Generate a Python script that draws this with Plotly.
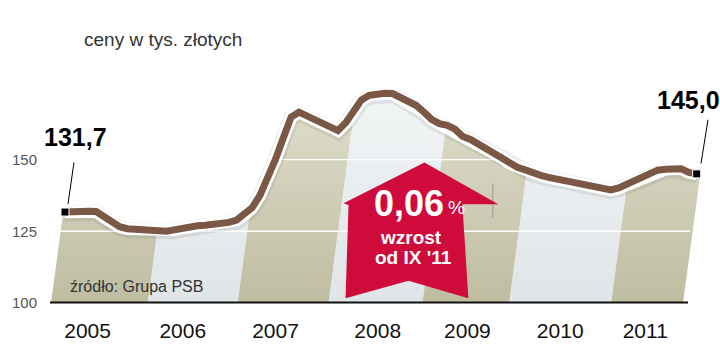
import plotly.graph_objects as go

# ---------------- data ----------------
months = list(range(82))  # Jan 2005 .. Oct 2011 (monthly)
prices = [131.7, 132.0, 132.0, 132.0, 131.9, 129.9, 128.0, 126.6, 125.9, 125.7,
          125.4, 125.2, 125.1, 125.0, 125.5, 126.1, 126.6, 126.9, 127.1, 127.3,
          127.7, 128.1, 128.9, 130.8, 133.2, 137.5, 143.1, 150.1, 157.6, 164.8,
          166.5, 165.2, 163.4, 162.3, 161.2, 160.1, 162.8, 166.9, 170.7, 172.4,
          173.0, 173.1, 173.0, 171.6, 170.0, 168.9, 166.6, 164.0, 162.5, 161.9,
          160.6, 158.0, 157.0, 155.4, 153.6, 152.1, 150.7, 148.6, 147.3, 146.4,
          145.3, 144.5, 143.8, 143.3, 142.7, 142.3, 141.8, 141.2, 140.4, 139.8,
          139.4, 140.1, 141.3, 142.6, 143.9, 145.2, 146.3, 146.6, 146.8, 146.8,
          145.5, 145.0]
year_labels = ["2005", "2006", "2007", "2008", "2009", "2010", "2011"]
year_label_pos = [2.9, 15.1, 27.0, 40.1, 51.6, 63.5, 74.4]
y_ticks = [100, 125, 150]
change_value = "0,06"
title_text = "ceny w tys. złotych"
source_text = "źródło: Grupa PSB"

# ---------------- layout geometry (pixels) ----------------
WIDTH, HEIGHT = 720, 354
L, R, T, B = 50, 705, 50, 311          # plot area edges in px
PX_PER_UNIT = 2.96
PX_PER_MONTH = 7.811
X0_PX = 64                              # px of first month
x_min = months[0] - (X0_PX - L) / PX_PER_MONTH
x_max = months[0] + (R - X0_PX) / PX_PER_MONTH
y_min = 100
y_max = 100 + (B - T) / PX_PER_UNIT


def xpx(px):
    return (px - L) / (R - L)


def ypx(py):
    return (B - py) / (B - T)


def px_to_x(px):
    return x_min + (px - L) / PX_PER_MONTH


def py_to_y(py):
    return y_min + (B - py) / PX_PER_UNIT


BROWN = "#7b5845"
OLIVE_SCALE = [[0, "#e2e1d0"], [1, "#bdbb9f"]]
LIGHT_SCALE = [[0, "#f3f5f6"], [1, "#dfe4e7"]]
RED = "#cf0b3c"
FONT = "Liberation Sans"

fig = go.Figure()

# background slanted bands (alternating)
band_edges_px = [50, 147, 237, 328, 422, 509, 611, 683]
slant = 0.13
for k in range(len(band_edges_px) - 1):
    a, b = band_edges_px[k], band_edges_px[k + 1]
    top_py = T
    shift = slant * (B - top_py)
    xs = [px_to_x(a), px_to_x(b), px_to_x(b + shift), px_to_x(a + shift), px_to_x(a)]
    ys = [y_min, y_min, py_to_y(top_py), py_to_y(top_py), y_min]
    fig.add_trace(go.Scatter(
        x=xs, y=ys, mode="lines", line=dict(width=0), fill="toself",
        fillcolor="#cccab2" if k % 2 == 0 else "#e6e9eb",
        fillgradient=dict(type="vertical",
                          colorscale=OLIVE_SCALE if k % 2 == 0 else LIGHT_SCALE,
                          start=py_to_y(B - 230), stop=y_min),
        hoverinfo="skip", showlegend=False))

# white gridlines
for gv in y_ticks[1:]:
    fig.add_trace(go.Scatter(x=[x_min, px_to_x(690)], y=[gv, gv], mode="lines",
                             line=dict(color="white", width=1.3),
                             hoverinfo="skip", showlegend=False))

# white area above the line
poly_x = [x_min] + months + [x_max, x_max, x_min, x_min]
poly_y = [prices[0]] + prices + [prices[-1], y_max, y_max, prices[0]]
fig.add_trace(go.Scatter(x=poly_x, y=poly_y, mode="lines", line=dict(width=0),
                         fill="toself", fillcolor="white",
                         hoverinfo="skip", showlegend=False))

# line: shadow, halo, line
fig.add_trace(go.Scatter(x=months, y=[p - 0.5 for p in prices], mode="lines",
                         line=dict(color="rgba(90,90,90,0.12)", width=16),
                         hoverinfo="skip", showlegend=False))
fig.add_trace(go.Scatter(x=months, y=prices, mode="lines",
                         line=dict(color="white", width=12.5),
                         hoverinfo="skip", showlegend=False))
fig.add_trace(go.Scatter(x=months, y=prices, mode="lines",
                         line=dict(color=BROWN, width=7),
                         showlegend=False))
# end markers
fig.add_trace(go.Scatter(x=[months[0], months[-1]], y=[prices[0], prices[-1]],
                         mode="markers",
                         marker=dict(symbol="square", size=8, color="black",
                                     line=dict(color="white", width=1)),
                         showlegend=False, cliponaxis=False))

shapes = []
# x axis baseline
shapes.append(dict(type="line", xref="paper", yref="paper",
                   x0=xpx(49), x1=xpx(688), y0=ypx(310.5), y1=ypx(310.5),
                   line=dict(color="#111", width=2), layer="above"))
# leader lines
shapes.append(dict(type="line", xref="paper", yref="paper",
                   x0=xpx(73), y0=ypx(166), x1=xpx(67), y1=ypx(209),
                   line=dict(color="black", width=1)))
shapes.append(dict(type="line", xref="paper", yref="paper",
                   x0=xpx(708), y0=ypx(122), x1=xpx(701), y1=ypx(167),
                   line=dict(color="black", width=1)))
# thin grey tick near the arrow
shapes.append(dict(type="line", xref="paper", yref="paper",
                   x0=xpx(492.5), y0=ypx(188), x1=xpx(492.5), y1=ypx(223),
                   line=dict(color="#999", width=1)))
# red arrow
arrow_pts = [(424, 166), (498, 209), (462, 209), (468, 306), (408, 288),
             (345, 306), (348, 210), (343, 208)]
path = "M " + " L ".join(f"{xpx(a):.5f},{ypx(b):.5f}" for a, b in arrow_pts) + " Z"
shapes.append(dict(type="path", xref="paper", yref="paper", path=path,
                   fillcolor=RED, line=dict(width=0), layer="above"))

annotations = []


def ann(text, px, py, size, color="black", bold=False, xanchor="center",
        family=FONT, weight=None):
    annotations.append(dict(
        text=f"<b>{text}</b>" if bold else text,
        x=xpx(px), y=ypx(py), xref="paper", yref="paper",
        xanchor=xanchor, yanchor="middle", showarrow=False,
        font=dict(size=size, color=color, family=family,
                  **({"weight": weight} if weight else {}))))


ann(title_text, 81, 39, 19, color="#333", xanchor="left")
ann(source_text, 67, 294, 16, color="#333", xanchor="left")
ann(f"{prices[0]:.1f}".replace(".", ","), 75, 140, 25, bold=True)
ann(f"{prices[-1]:.1f}".replace(".", ","), 688, 102, 25, bold=True)
ann(change_value, 409, 208, 36, color="white", bold=True)
ann("%", 456, 212, 19, color="white")
ann("wzrost", 411, 243, 19, color="white", bold=True)
ann("od IX '11", 413, 264, 19, color="white", bold=True)

fig.update_layout(
    width=WIDTH, height=HEIGHT,
    margin=dict(l=L, r=WIDTH - R, t=T, b=HEIGHT - B),
    paper_bgcolor="white", plot_bgcolor="white",
    showlegend=False,
    shapes=shapes, annotations=annotations,
    xaxis=dict(range=[x_min, x_max], showgrid=False, zeroline=False,
               showline=False, tickmode="array", tickvals=year_label_pos,
               ticktext=year_labels, ticks="outside", ticklen=9,
               tickcolor="rgba(0,0,0,0)",
               tickfont=dict(family=FONT, size=21, color="#111")),
    yaxis=dict(range=[y_min, y_max], showgrid=False, zeroline=False,
               showline=False, tickmode="array", tickvals=y_ticks,
               ticks="outside", ticklen=10, tickcolor="rgba(0,0,0,0)",
               tickfont=dict(family=FONT, size=15, color="#555")),
)

fig.write_html("out.html")
